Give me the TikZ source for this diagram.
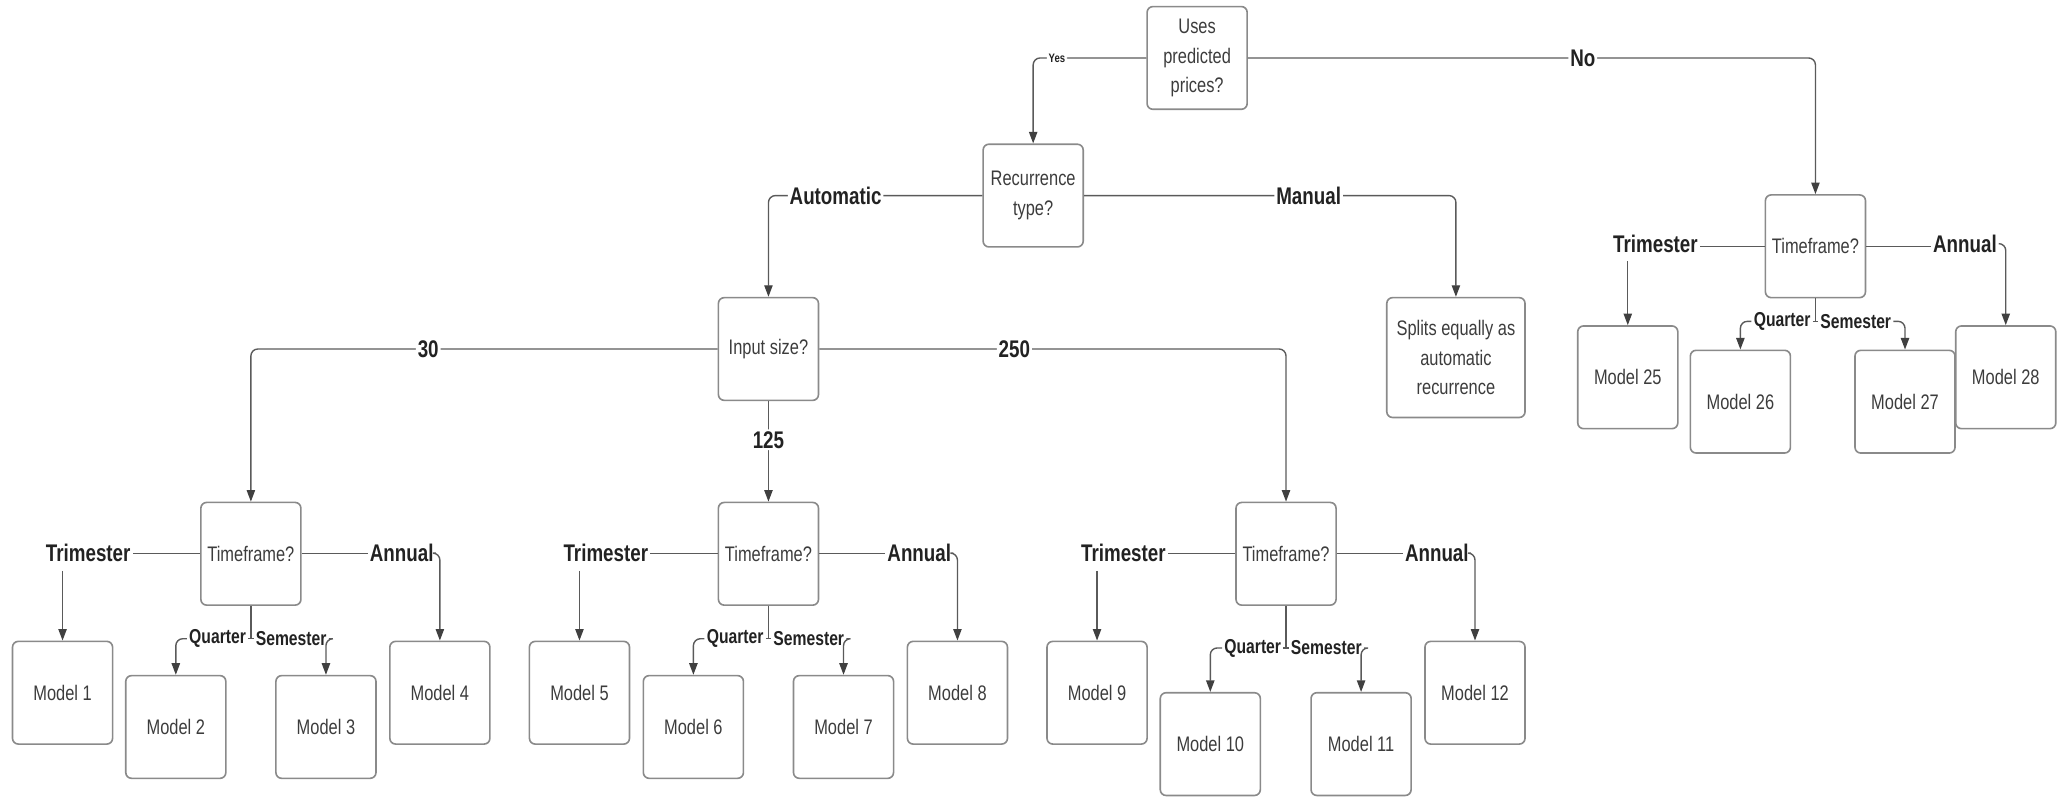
\documentclass[tikz,border=0pt]{standalone}
\usepackage{fontspec}
\setmainfont{Liberation Sans}[FakeStretch=0.78]
\usetikzlibrary{arrows.meta,calc}
\definecolor{boxc}{HTML}{8A8A8A}
\definecolor{linec}{HTML}{5A5A5A}
\definecolor{txtc}{HTML}{3C3C3C}
\definecolor{labc}{HTML}{222222}
\tikzset{
  box/.style={draw=boxc, line width=0.7pt, rounded corners=2.5pt, minimum width=1.52cm,
    minimum height=1.56cm, align=center, text=txtc, font=\fontsize{9.1}{12.8}\selectfont, inner sep=1pt},
  conn/.style={draw=linec, line width=0.6pt, rounded corners=3pt},
  arr/.style={conn, -{Triangle[length=5pt,width=3.6pt,color=black!75]}},
  lab/.style={fill=white, text=labc, font=\fontsize{10.4}{12}\selectfont\bfseries, inner sep=0.8pt},
  slab/.style={lab, font=\fontsize{8.7}{10}\selectfont\bfseries},
  ylab/.style={lab, font=\fontsize{5.3}{6}\selectfont\bfseries},
}
\begin{document}
\begin{tikzpicture}[x=0.02cm,y=-0.02cm]
\useasboundingbox (0,0) rectangle (1568,605);

% decision nodes
\node[box] (uses) at (909,44) {Uses\\predicted\\prices?};
\node[box] (rec) at (784.5,148.5) {Recurrence\\type?};
\node[box, minimum width=2.1cm, minimum height=1.82cm] (split) at (1105.5,271.5) {Splits equally as\\automatic\\recurrence};
\node[box] (inp) at (583.5,265) {Input size?};
\node[box] (tf1) at (190.5,420.5) {Timeframe?};
\node[box] (tf2) at (583.5,420.5) {Timeframe?};
\node[box] (tf3) at (976.5,420.5) {Timeframe?};
\node[box] (tfr) at (1378.5,187) {Timeframe?};

% models
\node[box] (m1) at (47.5,526) {Model 1};
\node[box] (m2) at (133.5,552) {Model 2};
\node[box] (m3) at (247.5,552) {Model 3};
\node[box] (m4) at (334,526) {Model 4};
\node[box] (m5) at (440,526) {Model 5};
\node[box] (m6) at (526.5,552) {Model 6};
\node[box] (m7) at (640.5,552) {Model 7};
\node[box] (m8) at (727,526) {Model 8};
\node[box] (m9) at (833,526) {Model 9};
\node[box] (m10) at (919,565) {Model 10};
\node[box] (m11) at (1033.5,565) {Model 11};
\node[box] (m12) at (1120,526) {Model 12};
\node[box] (m25) at (1236,286.5) {Model 25};
\node[box] (m26) at (1321.5,305) {Model 26};
\node[box] (m27) at (1446.5,305) {Model 27};
\node[box] (m28) at (1523,286.5) {Model 28};

% upper connectors
\draw[arr] (uses.west) -| node[ylab,pos=0.395] (lyes) {Yes} (rec.north);
\draw[arr] (uses.east) -| node[lab,pos=0.295] (lno) {No} (tfr.north);
\draw[arr] (rec.west) -| node[lab,pos=0.343] (lauto) {Automatic} (inp.north);
\draw[arr] (rec.east) -| node[lab,pos=0.302] (lman) {Manual} (split.north);
\draw[arr] (inp.west) -| node[lab,pos=0.31] (l30) {30} (tf1.north);
\draw[arr] (inp.east) -| node[lab,pos=0.209] (l250) {250} (tf3.north);
\draw[arr] (inp.south) -- node[lab,pos=0.385] (l125) {125} (tf2.north);

% group 1
\node[lab] (t1) at (67,420) {Trimester};
\node[lab] (a1) at (305,420) {Annual};
\coordinate (j1) at (190.5,485);
\node[slab, anchor=east] (q1) at (188.5,485) {Quarter};
\node[slab, anchor=west] (s1) at (192.5,485) {Semester};
\draw[conn] (tf1.west) -- (tf1.west -| t1.east);
\draw[arr] ($(t1.south -| m1.north)+(0,5)$) -- (m1.north);
\draw[conn] (tf1.east) -- (tf1.east -| a1.west);
\draw[arr] (a1.east) -| (m4.north);
\draw[conn] (tf1.south) -- (j1);
\draw[conn] (q1.east) -- (s1.west);
\draw[arr] (q1.west) -| (m2.north);
\draw[arr] (s1.east) -| (m3.north);

% group 2
\node[lab] (t2) at (460,420) {Trimester};
\node[lab] (a2) at (698,420) {Annual};
\coordinate (j2) at (583.5,485);
\node[slab, anchor=east] (q2) at (581.5,485) {Quarter};
\node[slab, anchor=west] (s2) at (585.5,485) {Semester};
\draw[conn] (tf2.west) -- (tf2.west -| t2.east);
\draw[arr] ($(t2.south -| m5.north)+(0,5)$) -- (m5.north);
\draw[conn] (tf2.east) -- (tf2.east -| a2.west);
\draw[arr] (a2.east) -| (m8.north);
\draw[conn] (tf2.south) -- (j2);
\draw[conn] (q2.east) -- (s2.west);
\draw[arr] (q2.west) -| (m6.north);
\draw[arr] (s2.east) -| (m7.north);

% group 3
\node[lab] (t3) at (853,420) {Trimester};
\node[lab] (a3) at (1091,420) {Annual};
\coordinate (j3) at (976.5,492);
\node[slab, anchor=east] (q3) at (974.5,492) {Quarter};
\node[slab, anchor=west] (s3) at (978.5,492) {Semester};
\draw[conn] (tf3.west) -- (tf3.west -| t3.east);
\draw[arr] ($(t3.south -| m9.north)+(0,5)$) -- (m9.north);
\draw[conn] (tf3.east) -- (tf3.east -| a3.west);
\draw[arr] (a3.east) -| (m12.north);
\draw[conn] (tf3.south) -- (j3);
\draw[conn] (q3.east) -- (s3.west);
\draw[arr] (q3.west) -| (m10.north);
\draw[arr] (s3.east) -| (m11.north);

% right group
\node[lab] (t4) at (1257,185) {Trimester};
\node[lab] (a4) at (1492,185) {Annual};
\coordinate (j4) at (1378.5,244);
\node[slab, anchor=east] (q4) at (1376.5,244) {Quarter};
\node[slab, anchor=west] (s4) at (1380.5,244) {Semester};
\draw[conn] (tfr.west) -- (tfr.west -| t4.east);
\draw[arr] ($(t4.south -| m25.north)+(0,5)$) -- (m25.north);
\draw[conn] (tfr.east) -- (tfr.east -| a4.west);
\draw[arr] (a4.east) -| (m28.north);
\draw[conn] (tfr.south) -- (j4);
\draw[conn] (q4.east) -- (s4.west);
\draw[arr] (q4.west) -| (m26.north);
\draw[arr] (s4.east) -| (m27.north);
\end{tikzpicture}
\end{document}
